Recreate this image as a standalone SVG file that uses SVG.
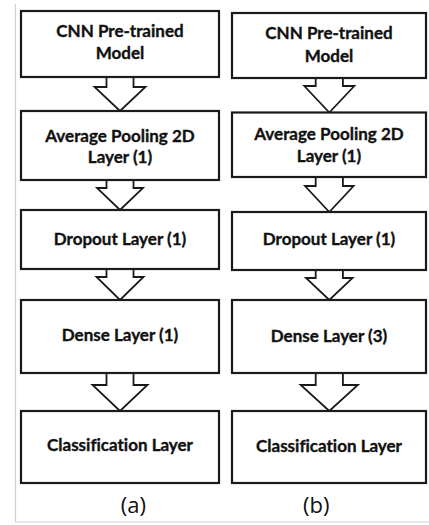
<svg xmlns="http://www.w3.org/2000/svg" width="429" height="525" viewBox="0 0 429 525">
<style>
.box{fill:#fff;stroke:#1a1a1a;stroke-width:2.2}
.arr{fill:#fff;stroke:#1a1a1a;stroke-width:1.8;stroke-linejoin:miter}
.t{font-family:Lato,"Open Sans","Liberation Sans",sans-serif;font-weight:bold;font-size:17px;fill:#111;stroke:#111;stroke-width:0.35;text-anchor:middle;font-variant-ligatures:none}
.cap{font-family:"Open Sans","Liberation Sans",sans-serif;font-size:22px;fill:#111;text-anchor:middle}
.frame{fill:none;stroke:#cfcfcf;stroke-width:1.2}
</style>
<rect width="429" height="525" fill="#fff"/>
<path class="frame" d="M15.5,4 V522 H429"/>
<g id="connectors">
<path class="arr" d="M106.5,77 V87 H94.5 L120,111 L145.5,87 H133.5 V77"/>
<path class="arr" d="M106.5,180 V188 H97 L120,210 L143,188 H133.5 V180"/>
<path class="arr" d="M106.5,269 V277 H96.5 L120,300 L143.5,277 H133.5 V269"/>
<path class="arr" d="M106.5,373 V385 H92.5 L120,411 L147.5,385 H133.5 V373"/>
<path class="arr" d="M315.7,78 V86 H304.3 L329.3,112.5 L354.3,86 H342.9 V78"/>
<path class="arr" d="M315.7,177 V186 H305 L329.3,212 L353.6,186 H342.9 V177"/>
<path class="arr" d="M315.7,270 V278 H306 L329.3,300 L352.6,278 H342.9 V270"/>
<path class="arr" d="M315.7,373 V385 H300.7 L329.3,411 L357.9,385 H342.9 V373"/>
</g>
<g id="a-cnn"><rect class="box" x="21" y="11" width="198" height="66"/><text class="t" x="120" y="37">CNN Pre-trained</text><text class="t" x="120" y="59">Model</text></g>
<g id="a-avgpool"><rect class="box" x="21" y="111" width="198" height="69"/><text class="t" x="120" y="141.5">Average Pooling 2D</text><text class="t" x="120" y="162.5">Layer (1)</text></g>
<g id="a-dropout"><rect class="box" x="21" y="210" width="198" height="59"/><text class="t" x="120" y="244.5">Dropout Layer (1)</text></g>
<g id="a-dense"><rect class="box" x="21" y="300" width="198" height="73"/><text class="t" x="120" y="341">Dense Layer (1)</text></g>
<g id="a-class"><rect class="box" x="21" y="411" width="198" height="72"/><text class="t" x="120" y="450.5">Classification Layer</text></g>
<g id="b-cnn"><rect class="box" x="232" y="13" width="194" height="65"/><text class="t" x="329" y="39">CNN Pre-trained</text><text class="t" x="329" y="61.5">Model</text></g>
<g id="b-avgpool"><rect class="box" x="232" y="112.5" width="194" height="64.5"/><text class="t" x="329" y="139.5">Average Pooling 2D</text><text class="t" x="329" y="161.5">Layer (1)</text></g>
<g id="b-dropout"><rect class="box" x="232" y="212" width="194" height="58"/><text class="t" x="329" y="244.5">Dropout Layer (1)</text></g>
<g id="b-dense"><rect class="box" x="232" y="300" width="194" height="73"/><text class="t" x="329" y="341.5">Dense Layer (3)</text></g>
<g id="b-class"><rect class="box" x="232" y="411" width="194" height="72"/><text class="t" x="329" y="451.5">Classification Layer</text></g>
<text class="cap" x="133.3" y="513">(a)</text>
<text class="cap" x="316.3" y="513">(b)</text>
</svg>
